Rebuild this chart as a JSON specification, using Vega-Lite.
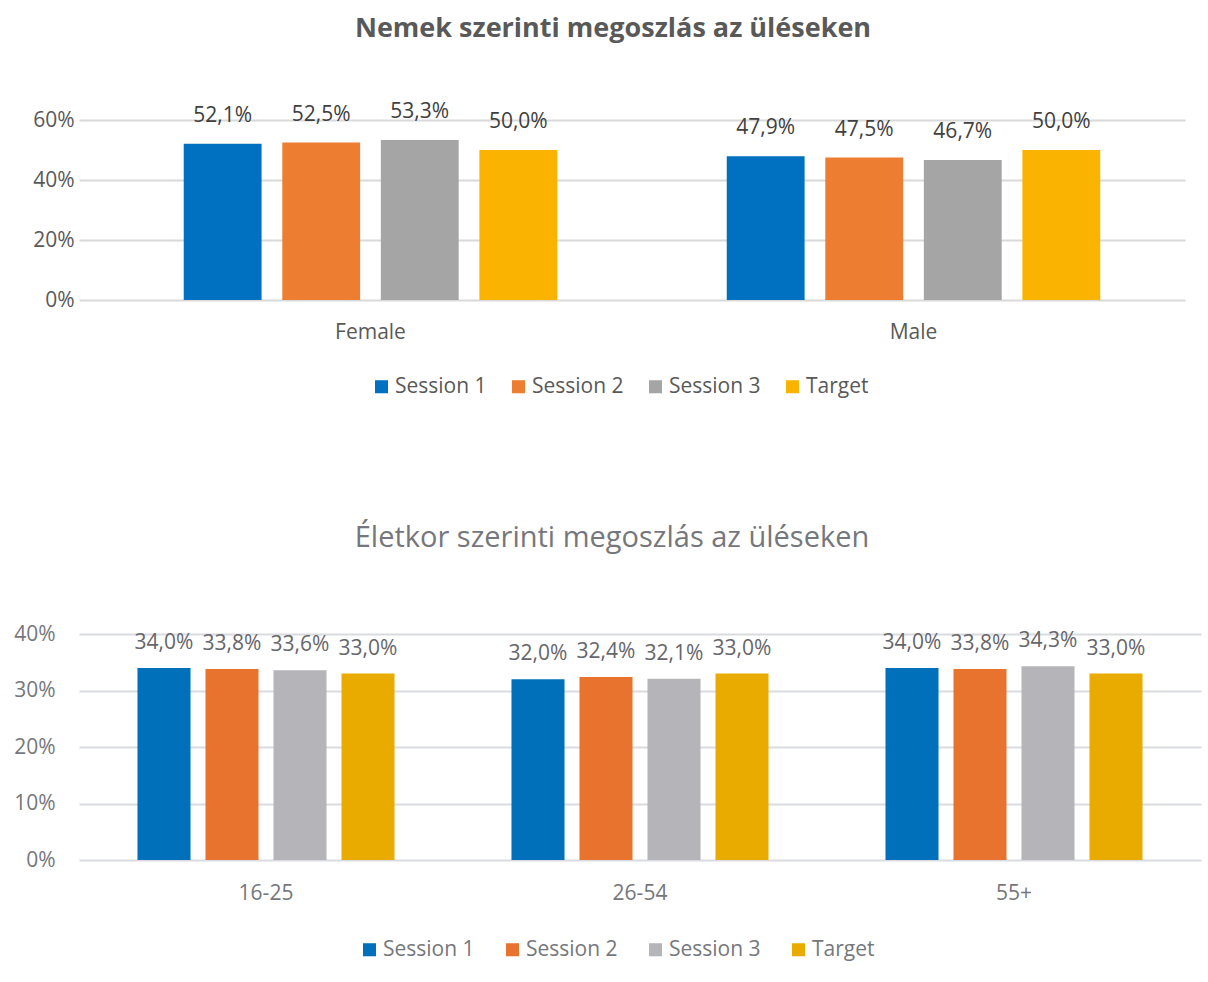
{
  "$schema": "https://vega.github.io/schema/vega-lite/v6.json",
  "background": "white",
  "padding": {"left": 13, "top": 15, "right": 5, "bottom": 5},
  "config": {
    "font": "Open Sans",
    "locale": {"number": {"decimal": ",", "thousands": " ", "grouping": [3], "currency": ["", ""]}},
    "view": {"stroke": null},
    "axis": {"labelFont": "Open Sans", "labelFontSize": 21, "ticks": false, "domain": false, "title": null},
    "legend": {"padding": 0}
  },
  "datasets": {
    "gender": [
      {"group": "Female", "series": "Session 1", "value": 0.521},
      {"group": "Female", "series": "Session 2", "value": 0.525},
      {"group": "Female", "series": "Session 3", "value": 0.533},
      {"group": "Female", "series": "Target", "value": 0.5},
      {"group": "Male", "series": "Session 1", "value": 0.479},
      {"group": "Male", "series": "Session 2", "value": 0.475},
      {"group": "Male", "series": "Session 3", "value": 0.467},
      {"group": "Male", "series": "Target", "value": 0.5}
    ],
    "age": [
      {"group": "16-25", "series": "Session 1", "value": 0.34},
      {"group": "16-25", "series": "Session 2", "value": 0.338},
      {"group": "16-25", "series": "Session 3", "value": 0.336},
      {"group": "16-25", "series": "Target", "value": 0.33},
      {"group": "26-54", "series": "Session 1", "value": 0.32},
      {"group": "26-54", "series": "Session 2", "value": 0.324},
      {"group": "26-54", "series": "Session 3", "value": 0.321},
      {"group": "26-54", "series": "Target", "value": 0.33},
      {"group": "55+", "series": "Session 1", "value": 0.34},
      {"group": "55+", "series": "Session 2", "value": 0.338},
      {"group": "55+", "series": "Session 3", "value": 0.343},
      {"group": "55+", "series": "Target", "value": 0.33}
    ]
  },
  "spacing": 127,
  "vconcat": [
    {
      "title": {"text": "Nemek szerinti megoszlás az üléseken", "fontSize": 27, "fontWeight": "bold", "color": "#595959", "offset": 58, "anchor": "middle", "frame": "group", "dx": -19},
      "width": 1106,
      "height": 180,
      "data": {"name": "gender"},
      "encoding": {
        "x": {"field": "group", "type": "nominal", "sort": null, "scale": {"paddingInner": 0, "paddingOuter": 0.0184, "align": 1}, "axis": {"labelAngle": 0, "labelColor": "#595959", "labelPadding": 21, "grid": false}},
        "xOffset": {"field": "series", "type": "nominal", "sort": null, "scale": {"paddingInner": 0.21, "paddingOuter": 0.86}},
        "y": {"field": "value", "type": "quantitative", "scale": {"domain": [0, 0.6]}, "axis": {"values": [0, 0.2, 0.4, 0.6], "format": ".0%", "labelColor": "#595959", "labelPadding": 5, "gridColor": "#d9d9d9", "gridWidth": 2}}
      },
      "layer": [
        {
          "mark": {"type": "bar"},
          "encoding": {
            "color": {"field": "series", "type": "nominal", "sort": null,
              "scale": {"domain": ["Session 1", "Session 2", "Session 3", "Target"], "range": ["#0070c0", "#ed7d31", "#a5a5a5", "#fab400"]},
              "legend": {"orient": "none", "legendX": 292, "legendY": 256, "direction": "horizontal", "title": null, "symbolType": "square", "symbolSize": 170, "symbolStrokeWidth": 0, "labelFontSize": 21, "labelColor": "#595959", "columnPadding": 21, "labelOffset": 3}}
          }
        },
        {
          "mark": {"type": "text", "dy": -28, "fontSize": 21, "color": "#404040"},
          "encoding": {"text": {"field": "value", "type": "quantitative", "format": ".1%"}}
        }
      ]
    },
    {
      "title": {"text": "Életkor szerinti megoszlás az üléseken", "fontSize": 29, "fontWeight": "normal", "color": "#76777c", "offset": 70, "anchor": "middle", "frame": "group", "dx": -28},
      "width": 1122,
      "height": 226,
      "data": {"name": "age"},
      "encoding": {
        "x": {"field": "group", "type": "nominal", "sort": null, "scale": {"paddingInner": 0, "paddingOuter": 0}, "axis": {"labelAngle": 0, "labelColor": "#76777c", "labelPadding": 22, "grid": false}},
        "xOffset": {"field": "series", "type": "nominal", "sort": null, "scale": {"paddingInner": 0.22, "paddingOuter": 0.86}},
        "y": {"field": "value", "type": "quantitative", "scale": {"domain": [0, 0.4]}, "axis": {"values": [0, 0.1, 0.2, 0.3, 0.4], "format": ".0%", "labelColor": "#76777c", "labelPadding": 24, "gridColor": "#d9dbe0", "gridWidth": 2}}
      },
      "layer": [
        {
          "mark": {"type": "bar"},
          "encoding": {
            "color": {"field": "series", "type": "nominal", "sort": null,
              "scale": {"domain": ["Session 1", "Session 2", "Session 3", "Target"], "range": ["#0070bb", "#e8732f", "#b4b4b9", "#eaab00"]},
              "legend": {"orient": "none", "legendX": 280, "legendY": 305, "direction": "horizontal", "title": null, "symbolType": "square", "symbolSize": 170, "symbolStrokeWidth": 0, "labelFontSize": 21, "labelColor": "#76777c", "columnPadding": 27, "labelOffset": 3}}
          }
        },
        {
          "mark": {"type": "text", "dy": -25, "fontSize": 21, "color": "#66666b"},
          "encoding": {"text": {"field": "value", "type": "quantitative", "format": ".1%"}}
        }
      ]
    }
  ],
  "resolve": {"scale": {"color": "independent", "xOffset": "independent", "x": "independent", "y": "independent"}}
}
